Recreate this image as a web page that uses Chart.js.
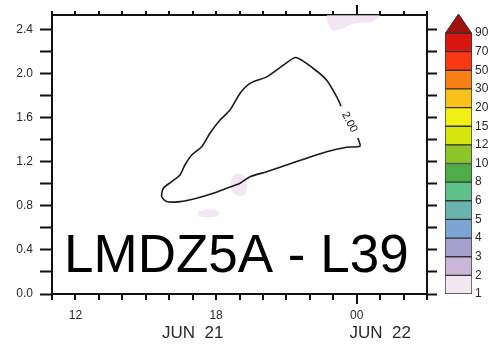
<!DOCTYPE html>
<html>
<head>
<meta charset="utf-8">
<script src="https://cdn.jsdelivr.net/npm/chart.js@4/dist/chart.umd.min.js"></script>
<style>
  html, body { margin: 0; padding: 0; background: #ffffff; }
  #wrap { position: relative; width: 495px; height: 350px; }
  #main { position: absolute; left: 0; top: 0; }
  #bar { position: absolute; left: 440px; top: 0; }
</style>
</head>
<body>
<div id="wrap">
  <canvas id="main" width="495" height="350"></canvas>
  <canvas id="bar" width="55" height="350"></canvas>
</div>
<script>
// Time axis in hours since 00 UTC JUN 21; vertical axis in km.
const hourTickValues = [12, 18, 24];
const hourTickText = ['12', '18', '00'];
const dateTickValues = [17, 25];
const dateTickText = ['JUN  21', 'JUN  22'];

// Closed 2.00 contour (open where its label sits)
const contourHours = [24.05, 24.14, 23.57, 22.72, 21.87, 21.01, 20.16, 19.45, 19.02, 18.45,
  17.88, 17.17, 16.46, 15.89, 15.68, 15.75, 16.11, 16.46, 16.67, 16.96,
  17.39, 17.74, 18.17, 18.59, 19.02, 19.45, 20.16, 20.87, 21.41, 22.15,
  22.72, 23.15, 23.33];
const contourHeights = [1.414, 1.342, 1.330, 1.290, 1.231, 1.170, 1.109, 1.064, 1.005, 0.959,
  0.914, 0.869, 0.838, 0.838, 0.883, 0.959, 1.019, 1.080, 1.170, 1.261,
  1.336, 1.457, 1.577, 1.668, 1.819, 1.910, 1.969, 2.075, 2.145, 2.045,
  1.939, 1.788, 1.704];
const contourLevel = '2.00';

// Small patches of the lowest shaded class (1-2)
const patchAHours = [18.94, 19.23, 19.32, 19.19, 18.85, 18.64, 18.68, 18.94];
const patchAHeights = [1.098, 1.062, 0.980, 0.899, 0.899, 0.962, 1.052, 1.098];
const patchBHours = [17.27, 17.74, 18.12, 18.08, 17.61, 17.23, 17.27];
const patchBHeights = [0.754, 0.767, 0.749, 0.709, 0.695, 0.713, 0.754];
const patchCHours = [22.73, 24.99, 24.78, 23.93, 23.29, 22.99, 22.77, 22.73];
const patchCHeights = [2.60, 2.60, 2.483, 2.455, 2.400, 2.391, 2.455, 2.60];

// Colour bar classes
const levelText = ['1', '2', '3', '4', '5', '6', '8', '10', '12', '15', '20', '30', '50', '70', '90'];
const levelColors = ['#f2e6f1', '#cab6d9', '#a5a0ce', '#7ca5d4', '#69b4ae', '#5ec18a', '#4ead46',
  '#8cc62a', '#d4e40f', '#f1ef15', '#f9c11c', '#f98017', '#fa3814', '#d91610'];
const overColor = '#a0110c';

const title = 'LMDZ5A - L39';

const X_MIN = 11, X_MAX = 27, Y_MIN = 0, Y_MAX = 2.53;
const FONT = '"Liberation Sans", Arial, Helvetica, sans-serif';
const INK = '#111111';
const LABEL = '#2a2a2a';

const zip = (xs, ys) => xs.map((x, i) => ({ x: x, y: ys[i] }));
const onStep = (v, s) => Math.abs(v / s - Math.round(v / s)) < 1e-6;

const patchStyle = {
  type: 'scatter', showLine: true, fill: 'shape', tension: 0.45,
  backgroundColor: 'rgba(238, 218, 240, 0.7)', borderWidth: 0, pointRadius: 0, order: 2
};

// Hour tick marks on the top and bottom frame: longer at 00 UTC
const hourMarks = {
  id: 'hourMarks',
  afterDraw(chart) {
    const ctx = chart.ctx;
    ctx.save();
    ctx.strokeStyle = INK;
    ctx.lineWidth = 2;
    [['x', 1, 6], ['xT', -1, 4]].forEach(([id, dir, minorLen]) => {
      const s = chart.scales[id];
      const y0 = dir > 0 ? s.top : s.bottom;
      s.ticks.forEach(t => {
        const px = Math.round(s.getPixelForValue(t.value));
        const len = (t.value % 24 === 0) ? 10 : minorLen;
        ctx.beginPath();
        ctx.moveTo(px, y0);
        ctx.lineTo(px, y0 + dir * len);
        ctx.stroke();
      });
    });
    ctx.restore();
  }
};

// Inline label for the contour, in the gap between its two ends
const contourLabel = {
  id: 'contourLabel',
  afterDatasetsDraw(chart) {
    const xs = chart.scales.x, ys = chart.scales.y;
    const n = contourHours.length - 1;
    const ax = xs.getPixelForValue(contourHours[n]), ay = ys.getPixelForValue(contourHeights[n]);
    const bx = xs.getPixelForValue(contourHours[0]), by = ys.getPixelForValue(contourHeights[0]);
    const ctx = chart.ctx;
    ctx.save();
    ctx.translate((ax + bx) / 2, (ay + by) / 2);
    ctx.rotate(Math.atan2(by - ay, bx - ax));
    ctx.font = '11px ' + FONT;
    ctx.fillStyle = INK;
    ctx.textAlign = 'center';
    ctx.textBaseline = 'middle';
    ctx.fillText(contourLevel, 0, 0);
    ctx.restore();
  }
};

// Soft edges for the shaded patches
const softPatches = {
  id: 'softPatches',
  beforeDatasetDraw(chart, args) {
    if (args.meta.order === 2) { chart.ctx.save(); chart.ctx.filter = 'blur(1.5px)'; }
  },
  afterDatasetDraw(chart, args) {
    if (args.meta.order === 2) { chart.ctx.restore(); }
  }
};

// Model name written across the lower part of the panel
const panelTitle = {
  id: 'panelTitle',
  afterDraw(chart) {
    const a = chart.chartArea, ctx = chart.ctx;
    ctx.save();
    ctx.font = '53px ' + FONT;
    ctx.fillStyle = '#000000';
    ctx.textAlign = 'left';
    ctx.textBaseline = 'alphabetic';
    ctx.fillText(title, a.left + 12, a.bottom - 22);
    ctx.restore();
  }
};

const frame = { display: true, width: 2, color: INK };
const keepSteps = s => { s.ticks = s.ticks.filter(t => onStep(t.value, 0.2)); };
const hourTicks = s => {
  const t = [];
  for (let h = X_MIN; h <= X_MAX; h++) t.push({ value: h });
  s.ticks = t;
};

new Chart(document.getElementById('main'), {
  type: 'scatter',
  data: {
    datasets: [
      Object.assign({ data: zip(patchAHours, patchAHeights) }, patchStyle),
      Object.assign({ data: zip(patchBHours, patchBHeights) }, patchStyle),
      Object.assign({ data: zip(patchCHours, patchCHeights) }, patchStyle),
      {
        type: 'scatter', showLine: true, fill: false, tension: 0.25,
        data: zip(contourHours, contourHeights),
        borderColor: '#1a1a1a', borderWidth: 1.6, pointRadius: 0, order: 1
      }
    ]
  },
  options: {
    responsive: false,
    animation: false,
    layout: { padding: 0 },
    plugins: { legend: { display: false }, tooltip: { enabled: false } },
    scales: {
      x: {
        type: 'linear', position: 'bottom', min: X_MIN, max: X_MAX, weight: 0,
        afterBuildTicks: hourTicks,
        afterFit: s => { s.height = 26; },
        ticks: {
          autoSkip: false, maxRotation: 0, padding: 14, color: LABEL,
          font: { family: FONT, size: 12 },
          callback: v => { const i = hourTickValues.indexOf(v); return i >= 0 ? hourTickText[i] : ''; }
        },
        grid: { display: false, drawTicks: false },
        border: frame
      },
      xD: {
        type: 'linear', position: 'bottom', min: X_MIN, max: X_MAX, weight: 1,
        afterBuildTicks: s => { s.ticks = dateTickValues.map(v => ({ value: v })); },
        afterFit: s => { s.height = 30; },
        ticks: {
          autoSkip: false, maxRotation: 0, padding: 3, color: LABEL,
          font: { family: FONT, size: 17 },
          callback: v => dateTickText[dateTickValues.indexOf(v)]
        },
        grid: { display: false, drawTicks: false },
        border: { display: false }
      },
      xT: {
        type: 'linear', position: 'top', min: X_MIN, max: X_MAX,
        afterBuildTicks: hourTicks,
        afterFit: s => { s.height = 15; },
        ticks: { display: false },
        grid: { display: false, drawTicks: false },
        border: frame
      },
      y: {
        type: 'linear', position: 'left', min: Y_MIN, max: Y_MAX,
        afterBuildTicks: keepSteps,
        afterFit: s => { s.width = 52; },
        ticks: {
          stepSize: 0.2, autoSkip: false, padding: 7, color: LABEL,
          font: { family: FONT, size: 12 },
          callback: v => onStep(v, 0.4) ? v.toFixed(1) : ''
        },
        grid: { drawOnChartArea: false, drawTicks: true, tickLength: 12, tickWidth: 2, tickColor: INK },
        border: frame
      },
      yR: {
        type: 'linear', position: 'right', min: Y_MIN, max: Y_MAX,
        afterBuildTicks: keepSteps,
        afterFit: s => { s.width = 68; },
        ticks: { stepSize: 0.2, display: false },
        grid: { drawOnChartArea: false, drawTicks: true, tickLength: 10, tickWidth: 2, tickColor: INK },
        border: frame
      }
    }
  },
  plugins: [softPatches, hourMarks, contourLabel, panelTitle]
});

// Colour bar: one stacked column, one box per class, arrow for values above the top level
const overArrow = {
  id: 'overArrow',
  afterDatasetsDraw(chart) {
    const a = chart.chartArea, ctx = chart.ctx;
    ctx.save();
    ctx.beginPath();
    ctx.moveTo(a.left + 0.5, a.top);
    ctx.lineTo(a.right - 0.5, a.top);
    ctx.lineTo((a.left + a.right) / 2, a.top - 19);
    ctx.closePath();
    ctx.fillStyle = overColor;
    ctx.fill();
    ctx.strokeStyle = '#333333';
    ctx.lineWidth = 1;
    ctx.stroke();
    ctx.restore();
  }
};

new Chart(document.getElementById('bar'), {
  type: 'bar',
  data: {
    labels: [''],
    datasets: levelColors.map(c => ({
      data: [1], backgroundColor: c, borderColor: '#333333', borderWidth: 1,
      borderSkipped: false, barPercentage: 1, categoryPercentage: 1
    }))
  },
  options: {
    responsive: false,
    animation: false,
    layout: { padding: { left: 5, top: 33, bottom: 56, right: 0 } },
    plugins: { legend: { display: false }, tooltip: { enabled: false } },
    scales: {
      x: { display: false, stacked: true },
      y: {
        stacked: true, position: 'right', min: 0, max: levelText.length - 1,
        afterFit: s => { s.width = 23; },
        ticks: {
          stepSize: 1, autoSkip: false, padding: 3, color: LABEL,
          font: { family: FONT, size: 12 },
          callback: v => levelText[v]
        },
        grid: { display: false, drawTicks: false },
        border: { display: false }
      }
    }
  },
  plugins: [overArrow]
});
</script>
</body>
</html>
